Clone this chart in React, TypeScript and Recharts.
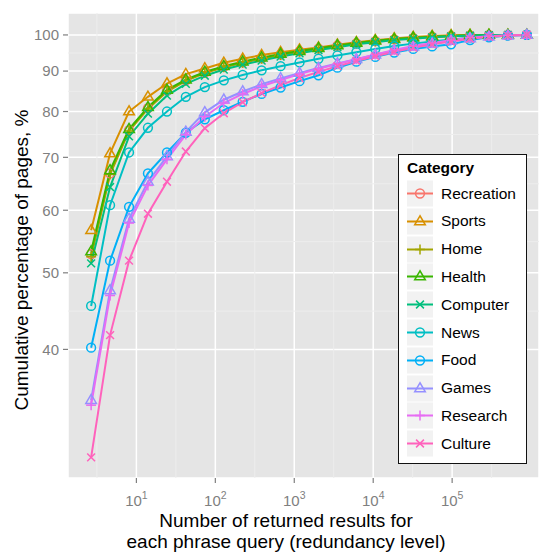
import React from 'react';
import { LineChart, Line, XAxis, YAxis, CartesianGrid, ReferenceLine, Legend } from 'recharts';

// redundancy level (x, log scale)
const redundancy = [2.67, 4.64, 8.07, 14.0, 24.4, 42.3, 73.6, 128, 222, 386, 671, 1166, 2026, 3521, 6117, 10630, 18480, 32110, 55800, 96970, 168500, 292800, 508800, 884100];

const categories = ['Recreation', 'Sports', 'Home', 'Health', 'Computer', 'News', 'Food', 'Games', 'Research', 'Culture'];
const colors = ['#F8766D', '#D89000', '#A3A500', '#39B600', '#00BF7D', '#00BFC4', '#00B0F6', '#9590FF', '#E76BF3', '#FF62BC'];
const shapes = ['circle', 'triangle', 'plus', 'triangle', 'cross', 'circle', 'circle', 'triangle', 'plus', 'cross'];

// cumulative percentage of pages
const recreation = [52.8, 66.8, 75.8, 80.8, 85.0, 87.6, 89.6, 91.1, 92.3, 93.4, 94.4, 95.3, 96.1, 96.9, 97.6, 98.2, 98.7, 99.1, 99.5, 99.7, 99.9, 100, 100, 100];
const sports = [56.6, 70.8, 80.0, 83.5, 86.8, 89.2, 90.7, 92.2, 93.3, 94.3, 95.1, 95.8, 96.4, 97.2, 97.9, 98.5, 99.0, 99.4, 99.7, 99.9, 100, 100, 100, 100];
const home = [52.4, 66.6, 75.6, 80.6, 84.8, 87.5, 89.5, 91.0, 92.2, 93.3, 94.3, 95.2, 96.0, 96.8, 97.5, 98.1, 98.7, 99.1, 99.5, 99.7, 99.9, 100, 100, 100];
const health = [53.2, 67.4, 76.0, 81.0, 85.2, 87.8, 89.8, 91.3, 92.5, 93.6, 94.6, 95.4, 96.2, 97.0, 97.7, 98.3, 98.8, 99.2, 99.5, 99.7, 99.9, 100, 100, 100];
const computer = [51.4, 64.2, 74.4, 79.5, 83.8, 86.7, 88.8, 90.4, 91.7, 92.8, 93.9, 94.8, 95.7, 96.5, 97.3, 97.9, 98.5, 98.9, 99.3, 99.6, 99.8, 99.9, 100, 100];
const news = [45.4, 60.9, 71.0, 76.3, 80.0, 83.5, 85.9, 87.6, 89.0, 90.2, 91.3, 92.3, 93.3, 94.2, 95.1, 96.0, 96.8, 97.5, 98.1, 98.7, 99.2, 99.6, 99.9, 100];
const food = [40.2, 51.8, 60.6, 66.8, 71.0, 75.2, 78.2, 80.3, 82.3, 84.2, 85.8, 87.4, 88.9, 90.9, 92.5, 93.8, 95.0, 96.0, 96.7, 97.3, 98.5, 99.3, 99.8, 100];
const games = [34.5, 47.5, 58.5, 65.2, 70.2, 75.4, 79.8, 82.8, 84.8, 86.6, 88.1, 89.5, 90.8, 92.0, 93.2, 94.4, 95.6, 96.6, 97.5, 98.3, 99.0, 99.5, 99.8, 100];
const research = [34.0, 46.8, 57.8, 64.5, 69.6, 74.8, 78.8, 82.0, 84.2, 86.1, 87.7, 89.2, 90.6, 91.9, 93.2, 94.5, 95.7, 96.8, 97.7, 98.5, 99.2, 99.6, 99.9, 100];
const culture = [29.2, 41.7, 51.8, 59.4, 65.2, 71.2, 76.2, 79.6, 82.2, 84.4, 86.4, 88.2, 89.8, 91.3, 92.7, 94.0, 95.2, 96.3, 97.3, 98.1, 98.9, 99.5, 99.8, 100];

const seriesValues = [recreation, sports, home, health, computer, news, food, games, research, culture];

const xTicks = [10, 100, 1000, 10000, 100000];
const xMinor = [3.162, 31.62, 316.2, 3162, 31623, 316228];
const yTicks = [40, 50, 60, 70, 80, 90, 100];
const yMinor = [44.72, 54.77, 64.81, 74.83, 84.85, 94.87];

const FONT = '"Liberation Sans", Arial, Helvetica, sans-serif';
const GREY = '#7F7F7F';

const data = redundancy.map((x, i) => {
  const row: Record<string, number> = { x };
  categories.forEach((c, k) => {
    row[c] = seriesValues[k][i];
  });
  return row;
});

function Marker({ cx, cy, shape, color }: { cx: number; cy: number; shape: string; color: string }) {
  const sw = 1.5;
  if (shape === 'circle') {
    return <circle cx={cx} cy={cy} r={4.4} fill="none" stroke={color} strokeWidth={sw} />;
  }
  if (shape === 'triangle') {
    const pts = `${cx},${cy - 5.7} ${cx - 5.3},${cy + 3.3} ${cx + 5.3},${cy + 3.3}`;
    return <polygon points={pts} fill="none" stroke={color} strokeWidth={sw} />;
  }
  if (shape === 'plus') {
    return (
      <g stroke={color} strokeWidth={sw}>
        <line x1={cx - 5} y1={cy} x2={cx + 5} y2={cy} />
        <line x1={cx} y1={cy - 5} x2={cx} y2={cy + 5} />
      </g>
    );
  }
  return (
    <g stroke={color} strokeWidth={sw}>
      <line x1={cx - 3.9} y1={cy - 3.9} x2={cx + 3.9} y2={cy + 3.9} />
      <line x1={cx - 3.9} y1={cy + 3.9} x2={cx + 3.9} y2={cy - 3.9} />
    </g>
  );
}

function PowerTick(props: any) {
  const { x, y, payload } = props;
  const exp = Math.round(Math.log10(payload.value));
  return (
    <text x={x} y={y + 21} textAnchor="middle" fill={GREY} fontSize={15} fontFamily={FONT}>
      <tspan>10</tspan>
      <tspan dy={-7} fontSize={10.5}>{exp}</tspan>
    </text>
  );
}

function CategoryLegend() {
  return (
    <div
      style={{
        boxSizing: 'border-box',
        width: 129,
        height: 310,
        border: '1.5px solid #111',
        background: '#fff',
        position: 'relative',
        fontFamily: FONT,
      }}
    >
      <div style={{ position: 'absolute', left: 8, top: 4, fontSize: 15.5, fontWeight: 'bold', lineHeight: '18px', color: '#000' }}>
        Category
      </div>
      {categories.map((c, i) => (
        <div key={c} style={{ position: 'absolute', left: 8, top: 25 + i * 27.8, height: 27, display: 'flex', alignItems: 'center' }}>
          <svg width={26} height={27} style={{ display: 'block' }}>
            <rect x={0} y={0.5} width={26} height={26} fill="#F2F2F2" />
            <line x1={0} y1={13.5} x2={26} y2={13.5} stroke={colors[i]} strokeWidth={2} />
            <Marker cx={13} cy={13.5} shape={shapes[i]} color={colors[i]} />
          </svg>
          <span style={{ marginLeft: 8, fontSize: 15.5, color: '#000', whiteSpace: 'nowrap' }}>{c}</span>
        </div>
      ))}
    </div>
  );
}

export default function App() {
  return (
    <div style={{ position: 'absolute', left: 0, top: 0, width: 539, height: 554, background: '#fff', fontFamily: FONT }}>
      <LineChart width={539} height={554} data={data} margin={{ top: 13, right: 0, bottom: 0, left: 0 }}>
        <CartesianGrid fill="#E5E5E5" stroke="#FFFFFF" strokeWidth={1.5} />
        {xMinor.map((v) => (
          <ReferenceLine key={`vx${v}`} x={v} stroke="#EDEDED" strokeWidth={1} />
        ))}
        {yMinor.map((v) => (
          <ReferenceLine key={`hy${v}`} y={v} stroke="#EDEDED" strokeWidth={1} />
        ))}
        <XAxis
          dataKey="x"
          type="number"
          scale="log"
          domain={[1.36, 1260000]}
          allowDataOverflow
          ticks={xTicks}
          axisLine={false}
          tickLine={{ stroke: GREY, strokeWidth: 1.2 }}
          tickSize={5}
          height={76}
          tick={<PowerTick />}
          interval={0}
        />
        <YAxis
          type="number"
          scale="log"
          domain={[27.5, 106.6]}
          allowDataOverflow
          ticks={yTicks}
          axisLine={false}
          tickLine={{ stroke: GREY, strokeWidth: 1.2 }}
          tickSize={5}
          tickMargin={4}
          width={68}
          tick={{ fill: GREY, fontSize: 15, fontFamily: FONT }}
          interval={0}
        />
        {categories.map((c, k) => (
          <Line
            key={c}
            dataKey={c}
            stroke={colors[k]}
            strokeWidth={2}
            isAnimationActive={false}
            type="linear"
            dot={(p: any) => <Marker key={`${c}-${p.index}`} cx={p.cx} cy={p.cy} shape={shapes[k]} color={colors[k]} />}
            activeDot={false}
          />
        ))}
        <Legend
          layout="vertical"
          align="center"
          verticalAlign="middle"
          content={() => <CategoryLegend />}
          wrapperStyle={{ left: 398, top: 154, width: 129, height: 310 }}
        />
      </LineChart>
      <div
        style={{
          position: 'absolute',
          left: 22 - 200,
          top: 260 - 12,
          width: 400,
          height: 24,
          lineHeight: '24px',
          textAlign: 'center',
          fontSize: 19,
          color: '#000',
          transform: 'rotate(-90deg)',
          whiteSpace: 'nowrap',
        }}
      >
        Cumulative percentage of pages, %
      </div>
      <div
        style={{
          position: 'absolute',
          left: 86,
          top: 509.5,
          width: 400,
          textAlign: 'center',
          fontSize: 19,
          lineHeight: '21.5px',
          color: '#000',
        }}
      >
        Number of returned results for
        <br />
        each phrase query (redundancy level)
      </div>
    </div>
  );
}
